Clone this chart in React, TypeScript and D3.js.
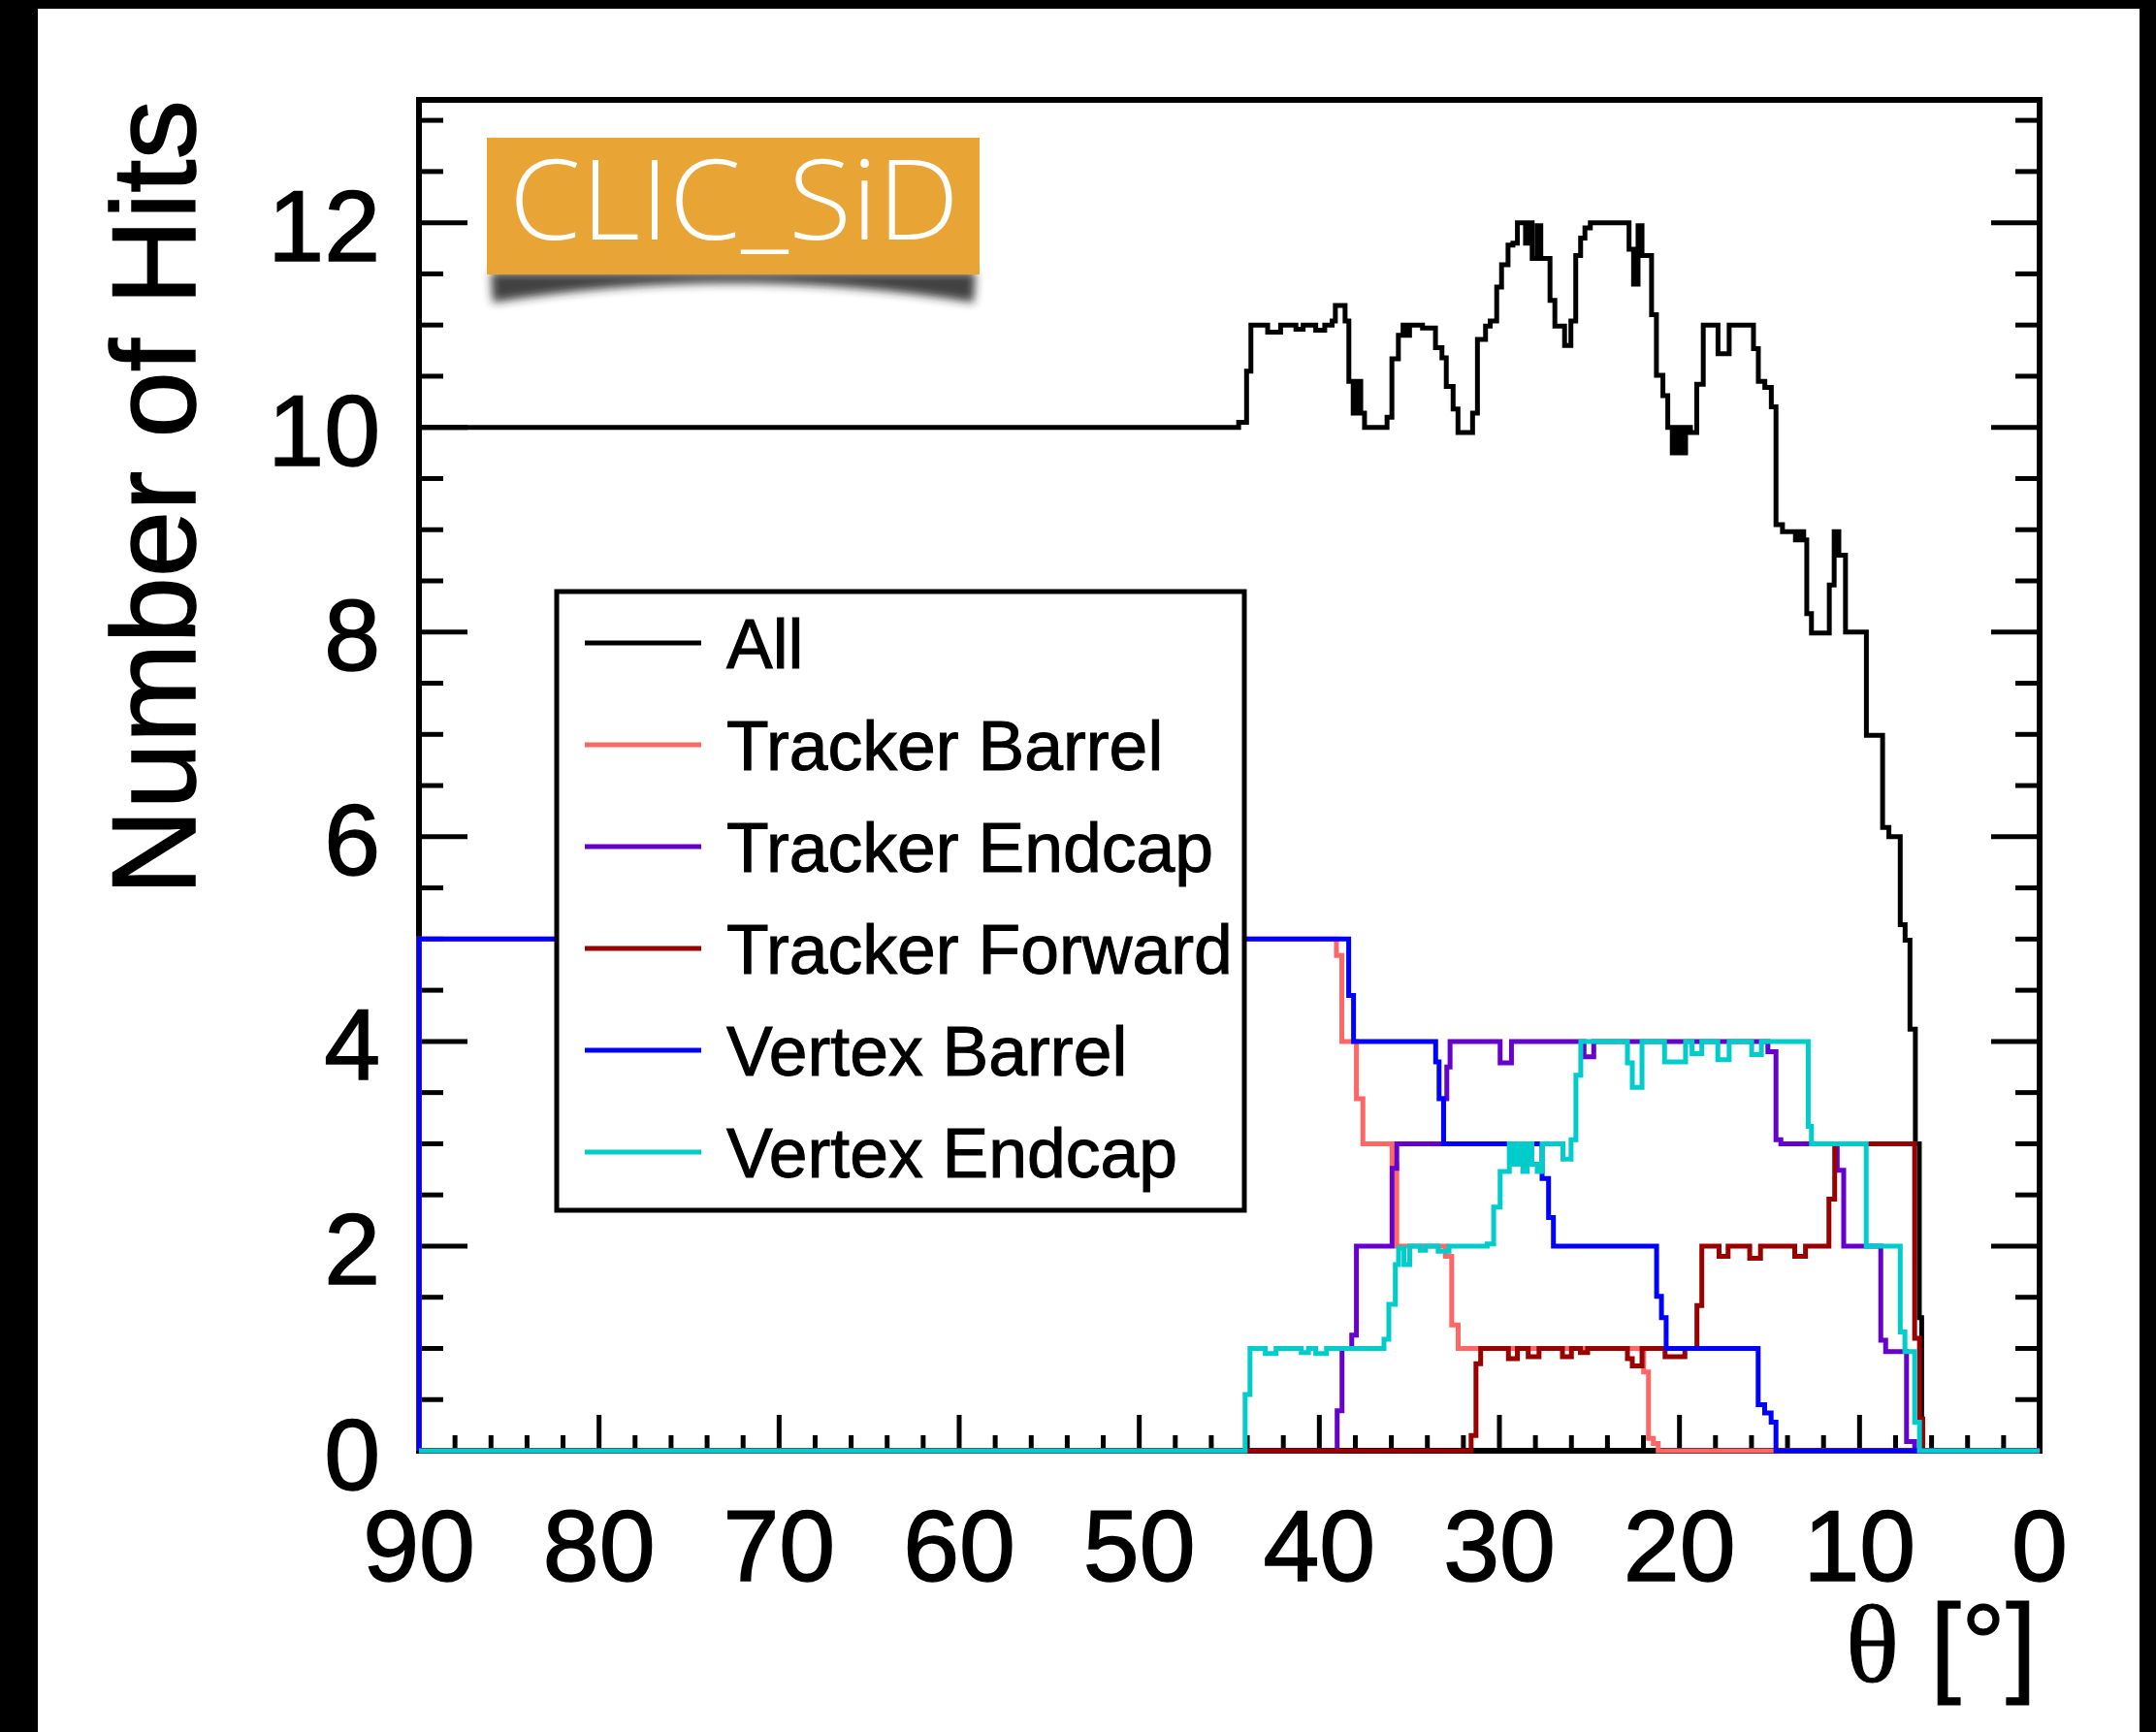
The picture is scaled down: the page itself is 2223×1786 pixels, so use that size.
import * as d3 from 'd3';

// step histograms: [theta where the bin run starts, mean number of hits]
const allHits: [number, number][] = [
  [90, 10], [44.48, 10.05], [44.04, 10.55], [43.8, 11.0], [42.87, 10.93], [42.15, 11.0],
  [41.3, 10.96], [40.9, 11.0], [40.2, 10.95], [39.7, 11.0], [39.29, 11.04], [39.11, 11.19],
  [38.57, 11.04], [38.36, 10.45], [38.12, 10.14], [37.88, 10.45], [37.7, 10.14], [37.49, 10.0],
  [36.24, 10.1], [35.97, 10.67], [35.61, 10.9], [35.35, 11.0], [35.15, 10.9], [34.99, 11.0],
  [34.27, 10.97], [33.55, 10.78], [33.19, 10.68], [32.95, 10.4], [32.57, 10.18], [32.3, 9.95],
  [31.49, 10.14], [31.22, 10.86], [30.77, 10.99], [30.51, 11.04], [30.15, 11.37], [29.88, 11.59],
  [29.52, 11.78], [29.25, 11.8], [29.0, 12.0], [28.55, 11.8], [28.35, 12.0], [28.18, 11.65],
  [27.9, 11.97], [27.7, 11.65], [27.19, 11.24], [26.92, 10.99], [26.38, 10.8], [26.03, 11.04],
  [25.76, 11.68], [25.49, 11.85], [25.25, 11.95], [24.95, 12.0], [22.8, 11.74], [22.55, 11.4],
  [22.3, 11.97], [22.08, 11.68], [21.55, 11.1], [21.28, 10.51], [20.92, 10.31], [20.65, 10.0],
  [20.4, 9.75], [20.15, 10.0], [19.9, 9.75], [19.66, 10.0], [19.39, 9.95], [19.04, 10.42],
  [18.68, 11.0], [17.86, 10.72], [17.24, 11.0], [15.89, 10.77], [15.62, 10.45], [15.26, 10.39],
  [14.9, 10.2], [14.64, 9.05], [14.28, 8.98], [13.56, 8.9], [13.3, 8.98], [13.1, 8.9],
  [12.93, 8.18], [12.67, 7.99], [11.68, 8.46], [11.41, 8.98], [11.15, 8.75], [10.78, 8.0],
  [9.62, 6.99], [8.72, 6.09], [8.37, 6.0], [7.74, 5.14], [7.47, 4.99], [7.2, 4.12],
  [6.9, 3.0], [6.68, 1.3], [6.55, 0], [0, 0],
];

const trackerBarrel: [number, number][] = [
  [90, 5], [39.05, 4.84], [38.75, 4.0], [37.94, 3.44], [37.58, 3.0], [35.96, 2.8], [35.7, 2.0],
  [33.0, 1.9], [32.65, 1.23], [32.29, 1.0], [21.99, 0.77], [21.72, 0.12], [21.45, 0.07],
  [21.18, 0], [0, 0],
];

const trackerEndcap: [number, number][] = [
  [90, 0], [39.01, 0.39], [38.74, 1.0], [38.2, 1.13], [37.94, 2.0], [35.96, 2.76], [35.7, 3.0],
  [33.1, 3.44], [32.92, 3.75], [32.74, 4.0], [29.96, 3.79], [29.33, 4.0], [25.3, 3.85],
  [24.76, 4.0], [15.09, 3.9], [14.64, 3.04], [14.37, 3.0], [11.24, 2.74], [10.88, 2.0],
  [8.82, 1.08], [8.55, 0.97], [7.39, 0.09], [6.94, 0], [0, 0],
];

const trackerForward: [number, number][] = [
  [90, 0], [31.57, 0.15], [31.3, 0.85], [31.04, 1.0], [29.5, 0.9], [29.0, 1.0], [28.4, 0.92],
  [27.8, 1.0], [26.5, 0.92], [26.0, 1.0], [25.5, 0.96], [25.1, 1.0], [22.89, 0.9], [22.62, 0.83],
  [22.08, 1.0], [20.8, 0.92], [19.7, 1.0], [19.03, 1.42], [18.76, 2.0], [17.8, 1.9], [17.3, 2.0],
  [16.1, 1.88], [15.5, 2.0], [13.6, 1.9], [13.0, 2.0], [11.7, 2.46], [11.38, 3.0], [6.94, 1.1],
  [6.67, 0.31], [6.49, 0], [0, 0],
];

const vertexBarrel: [number, number][] = [
  [90, 5], [38.37, 4.45], [38.1, 4.0], [33.54, 3.8], [33.35, 3.44], [33.1, 3.0], [27.63, 2.66],
  [27.27, 2.28], [27.0, 2.0], [21.27, 1.51], [21.0, 1.3], [20.74, 1.0], [15.63, 0.45],
  [15.27, 0.37], [14.91, 0.28], [14.64, 0], [0, 0],
];

const vertexEndcap: [number, number][] = [
  [90, 0], [44.12, 0.55], [43.85, 1.0], [43.0, 0.95], [42.4, 1.0], [41.0, 0.96], [40.6, 1.0],
  [40.2, 0.95], [39.6, 1.0], [36.41, 1.09], [36.14, 1.43], [35.78, 1.82], [35.6, 1.98],
  [35.3, 1.82], [34.98, 2.0], [34.4, 1.96], [34.1, 2.0], [33.4, 1.95], [32.8, 2.0],
  [30.68, 2.02], [30.32, 2.38], [29.96, 2.73], [29.69, 2.73], [29.45, 3.0], [29.2, 2.8],
  [28.95, 3.0], [28.7, 2.73], [28.45, 3.0], [28.2, 2.8], [27.9, 2.73], [27.63, 3.0],
  [26.47, 2.85], [26.02, 3.04], [25.75, 3.67], [25.48, 4.0], [22.89, 3.79], [22.62, 3.55],
  [22.08, 4.0], [20.83, 3.8], [19.66, 4.0], [19.3, 3.88], [18.76, 4.0], [17.87, 3.82],
  [17.24, 4.0], [15.99, 3.87], [15.45, 4.0], [12.85, 3.17], [12.67, 3.0], [9.63, 2.0],
  [7.74, 1.16], [7.48, 0.97], [6.94, 0.28], [6.67, 0], [0, 0],
];

const seriesNames = ['All', 'Tracker Barrel', 'Tracker Endcap', 'Tracker Forward', 'Vertex Barrel', 'Vertex Endcap'];
const seriesColors = ['#000000', '#ff6666', '#6600cc', '#990000', '#0000ff', '#00cccc'];
const seriesData = [allHits, trackerBarrel, trackerEndcap, trackerForward, vertexBarrel, vertexEndcap];

const xTickLabels = [90, 80, 70, 60, 50, 40, 30, 20, 10, 0];
const yTickLabels = [0, 2, 4, 6, 8, 10, 12];

const FONT = "'Liberation Sans', Arial, Helvetica, sans-serif";

export default function App() {
  const W = 2223;
  const H = 1786;
  const left = 432, right = 2103, top = 103, bottom = 1496;

  const x = d3.scaleLinear().domain([90, 0]).range([left, right]);
  const y = d3.scaleLinear().domain([0, 13.2]).range([bottom, top]);

  const line = d3
    .line<[number, number]>()
    .x((d) => x(d[0]))
    .y((d) => y(d[1]))
    .curve(d3.curveStepAfter);

  const yMinor = d3.range(0, 13.01, 0.5);
  const xMinor = d3.range(0, 90.01, 2);
  const isMajorY = (v: number) => Math.abs(v % 2) < 1e-6;
  const isMajorX = (v: number) => Math.abs(v % 10) < 1e-6;

  const legendRow = (i: number) => 663 + i * 105;

  return (
    <svg
      width={W}
      height={H}
      viewBox={`0 0 ${W} ${H}`}
      style={{ position: 'absolute', left: 0, top: 0, background: '#fff' }}
    >
      <defs>
        <filter id="shadowBlur" x="-10%" y="-100%" width="120%" height="300%">
          <feGaussianBlur stdDeviation="5" />
        </filter>
      </defs>
      <rect x={0} y={0} width={W} height={H} fill="#fff" />

      {/* frame */}
      <rect x={left} y={top} width={right - left} height={bottom - top} fill="none" stroke="#000" strokeWidth={6} />

      {/* y ticks, both sides; x ticks at the bottom only */}
      <g stroke="#000" strokeWidth={5}>
        {yMinor.map((v) => {
          const len = isMajorY(v) ? 50 : 25;
          return (
            <g key={`y${v}`}>
              <line x1={left} x2={left + len} y1={y(v)} y2={y(v)} />
              <line x1={right} x2={right - len} y1={y(v)} y2={y(v)} />
            </g>
          );
        })}
        {xMinor.map((v) => {
          const len = isMajorX(v) ? 37 : 16;
          return <line key={`x${v}`} x1={x(v)} x2={x(v)} y1={bottom} y2={bottom - len} />;
        })}
      </g>

      {/* tick labels */}
      <g fontFamily={FONT} fontSize={104} fill="#000" stroke="#000" strokeWidth={1.5}>
        {yTickLabels.map((v) => (
          <text key={`yl${v}`} x={392} y={y(v)} dy="0.38em" textAnchor="end">
            {v}
          </text>
        ))}
        {xTickLabels.map((v) => (
          <text key={`xl${v}`} x={x(v)} y={1630} textAnchor="middle">
            {v}
          </text>
        ))}
      </g>

      {/* axis titles */}
      <text
        fontFamily={FONT}
        fontSize={123}
        textAnchor="end"
        stroke="#000"
        strokeWidth={1.5}
        transform={`translate(201,${top}) rotate(-90)`}
      >
        Number of Hits
      </text>
      <text x={2100} y={1734} fontFamily={FONT} fontSize={115} textAnchor="end" stroke="#000" strokeWidth={1}>
        <tspan fontFamily="'Liberation Serif', 'Times New Roman', serif">θ</tspan> [°]
      </text>

      {/* histograms */}
      <g fill="none" strokeWidth={5} strokeLinejoin="miter">
        {seriesData.map((steps, i) => (
          <path key={seriesNames[i]} d={line([[90, 0], ...steps]) || ''} stroke={seriesColors[i]} />
        ))}
      </g>

      {/* legend */}
      <rect x={574} y={610} width={709} height={638} fill="#fff" stroke="#000" strokeWidth={5} />
      <g fontFamily={FONT} fontSize={71.5}>
        {seriesNames.map((name, i) => (
          <g key={`lg${name}`}>
            <line x1={603} x2={723} y1={legendRow(i)} y2={legendRow(i)} stroke={seriesColors[i]} strokeWidth={5} />
            <text x={749} y={legendRow(i)} dy="0.36em" fill="#000" stroke="#000" strokeWidth={1}>
              {name}
            </text>
          </g>
        ))}
      </g>

      {/* CLIC_SiD tag */}
      <path
        d="M 506 281 L 1006 281 L 1004 312 Q 756 272 508 312 Z"
        fill="#222"
        opacity={0.85}
        filter="url(#shadowBlur)"
      />
      <rect x={502} y={142} width={508} height={141} fill="#e8a535" />
      <text
        x={525}
        y={247}
        fontFamily="'Open Sans', Lato, 'Noto Sans', sans-serif"
        fontWeight={300}
        fontSize={115}
        fill="#fff"
        textLength={464}
        lengthAdjust="spacingAndGlyphs"
      >
        CLIC_SiD
      </text>

      {/* picture border */}
      <rect x={0} y={0} width={39} height={H} fill="#000" />
      <rect x={0} y={0} width={W} height={9} fill="#000" />
      <rect x={2206} y={0} width={W - 2206} height={H} fill="#000" />
    </svg>
  );
}
